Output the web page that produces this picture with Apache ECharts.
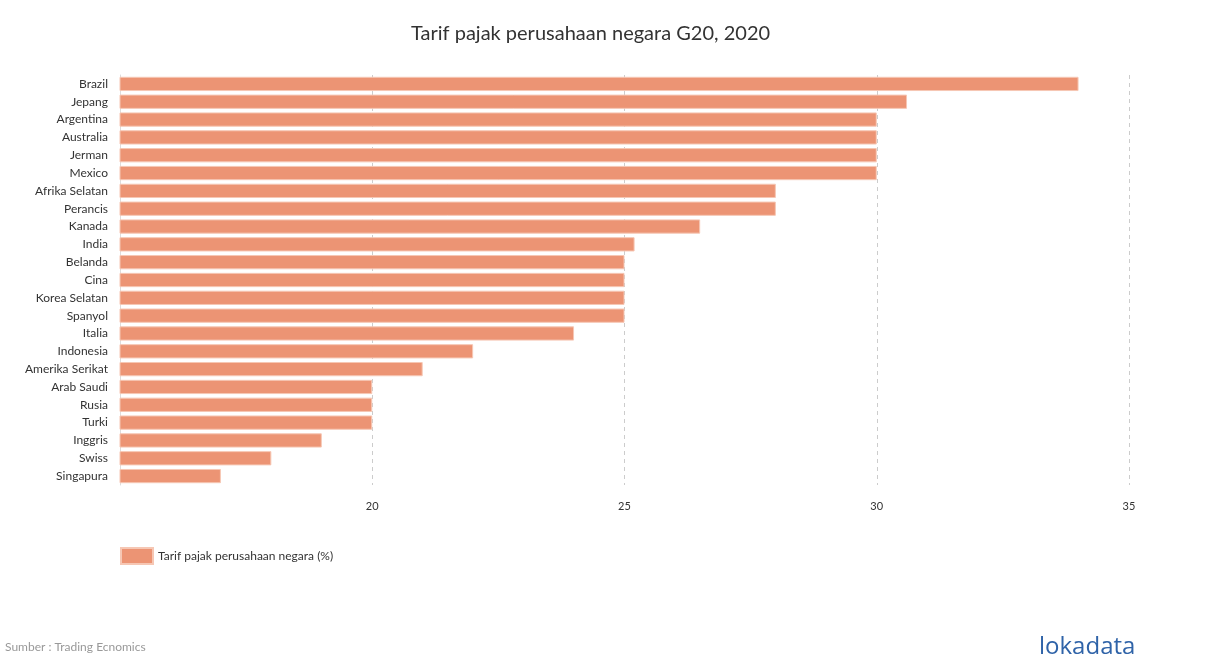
<!DOCTYPE html>
<html><head><meta charset="utf-8">
<script src="https://cdn.jsdelivr.net/npm/echarts@6/dist/echarts.min.js"></script>
<style>html,body{margin:0;padding:0;background:#fff}#c{width:1210px;height:660px}</style>
</head><body><div id="c"></div>
<script>
const categories = ["Brazil","Jepang","Argentina","Australia","Jerman","Mexico","Afrika Selatan","Perancis","Kanada","India","Belanda","Cina","Korea Selatan","Spanyol","Italia","Indonesia","Amerika Serikat","Arab Saudi","Rusia","Turki","Inggris","Swiss","Singapura"];
const values = [34,30.6,30,30,30,30,28,28,26.5,25.2,25,25,25,25,24,22,21,20,20,20,19,18,17];
const seriesName = "Tarif pajak perusahaan negara (%)";
const tickLabels = [20,25,30,35];

const chart = echarts.init(document.getElementById('c'));
chart.setOption({
  backgroundColor:'#fff',
  textStyle:{fontFamily:'Lato'},
  title:{text:'Tarif pajak perusahaan negara G20, 2020',left:406,top:19,
    textStyle:{fontFamily:'Lato',fontSize:20,fontWeight:'normal',color:'#333'}},
  legend:{left:120,top:547,padding:0,itemWidth:32,itemHeight:16,itemGap:5,icon:'rect',
    textStyle:{fontFamily:'Lato',fontSize:12,color:'#333'},data:[seriesName]},
  grid:{left:120,right:81,top:75,bottom:175},
  xAxis:{type:'value',min:15,max:35,interval:5,
    axisLine:{show:false},axisTick:{show:false},
    axisLabel:{fontFamily:'Lato',fontSize:11,color:'#333',margin:16,
      formatter:v=>tickLabels.includes(v)?String(v):''},
    splitLine:{show:true,lineStyle:{type:[4,4],color:'#ccc'}}},
  yAxis:{type:'category',data:categories,inverse:true,
    axisLine:{show:true,lineStyle:{color:'#ddd'}},axisTick:{show:false},
    axisLabel:{fontFamily:'Lato',fontSize:12,color:'#333',margin:12}},
  series:[{name:seriesName,type:'bar',data:values,barCategoryGap:'20%',
    itemStyle:{color:'#EC9474',borderColor:'#F6C7B4',borderWidth:1}}],
  graphic:[
    {type:'text',left:5,top:641,style:{text:'Sumber : Trading Ecnomics',fill:'#999',font:'12px Lato'}},
    {type:'text',left:1039,top:635,style:{text:'lokadata',fill:'#2F63A8',font:'500 24px "Open Sans"'}}
  ]
});
</script></body></html>
